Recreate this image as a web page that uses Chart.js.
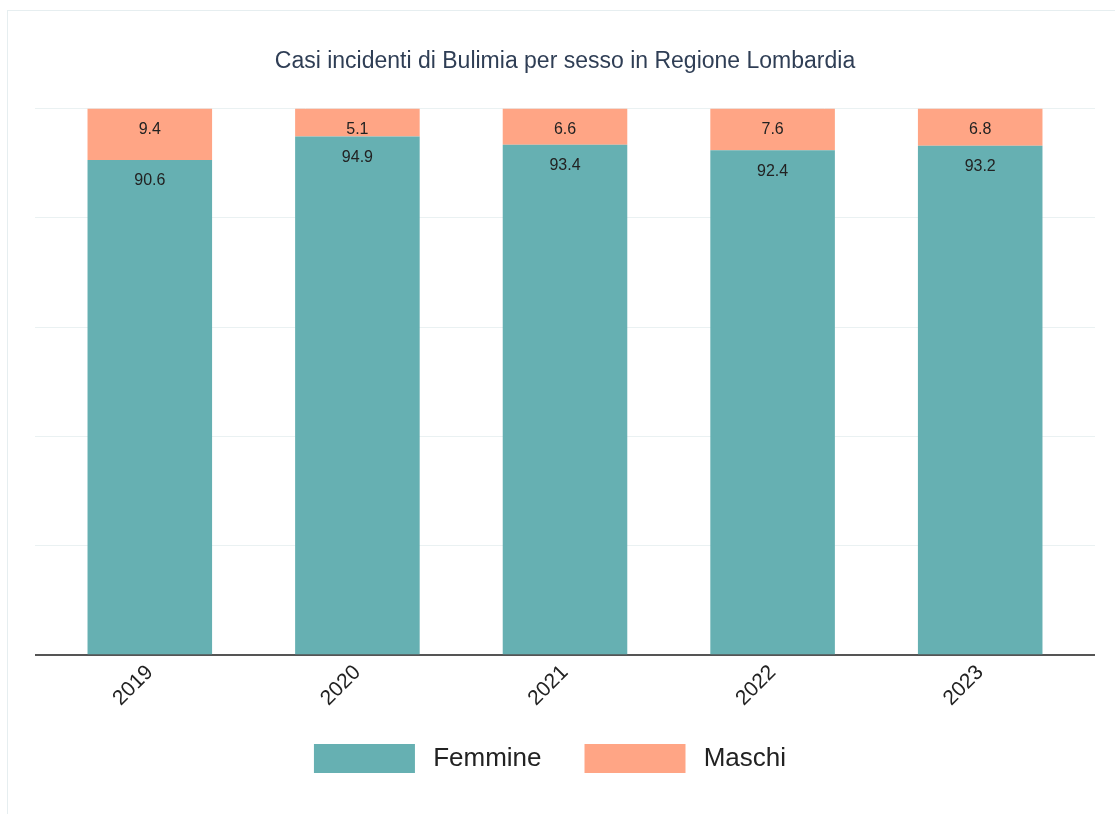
<!DOCTYPE html>
<html>
<head>
<meta charset="utf-8">
<script src="https://cdn.jsdelivr.net/npm/chart.js@4"></script>
<style>
  html, body { margin: 0; padding: 0; background: #fff; }
  #wrap { position: relative; width: 1115px; height: 814px; }
  #frame { position: absolute; left: 7px; top: 10px; width: 1120px; height: 820px; border: 1px solid #e6eef0; box-sizing: border-box; }
  #chart { position: absolute; left: 0; top: 0; }
</style>
</head>
<body>
<div id="wrap">
  <div id="frame"></div>
  <canvas id="chart" width="1115" height="814"></canvas>
</div>
<script>
// Data
var years = ['2019', '2020', '2021', '2022', '2023'];
var femmine = [90.6, 94.9, 93.4, 92.4, 93.2];
var maschi = [9.4, 5.1, 6.6, 7.6, 6.8];
var yTicks = [0, 20, 40, 60, 80, 100];

var gridColor = function (c) { return c.tick && c.tick.value === 0 ? '#555555' : '#eaf1f2'; };
var gridWidth = function (c) { return c.tick && c.tick.value === 0 ? 2 : 1; };

// Labels inside the bars
var barLabels = {
    id: 'barLabels',
    afterDatasetsDraw: function (chart) {
        var ctx = chart.ctx;
        ctx.save();
        ctx.font = '16px Arial, "Liberation Sans", sans-serif';
        ctx.fillStyle = '#222222';
        ctx.textAlign = 'center';
        ctx.textBaseline = 'middle';
        chart.data.datasets.forEach(function (ds, i) {
            var meta = chart.getDatasetMeta(i);
            meta.data.forEach(function (bar, j) {
                ctx.fillText(ds.data[j].toFixed(1), bar.x, bar.y + 21);
            });
        });
        ctx.restore();
    }
};

// legend sits a bit left of the plot centre and a little higher in the original
var legendShift = {
    id: 'legendShift',
    afterLayout: function (chart) {
        chart.legend.left -= 15;
        chart.legend.right -= 15;
        chart.legend.top -= 7;
        chart.legend.bottom -= 7;
    }
};

var ctx = document.getElementById('chart').getContext('2d');
var chart = new Chart(ctx, {
    type: 'bar',
    data: {
        labels: years,
        datasets: [{
            label: 'Femmine',
            data: femmine,
            backgroundColor: '#66b0b2',
            borderWidth: 0
        }, {
            label: 'Maschi',
            data: maschi,
            backgroundColor: '#ffa585',
            borderWidth: 0
        }]
    },
    options: {
        responsive: false,
        animation: false,
        layout: { padding: { left: 35, right: 20, top: 48, bottom: 24 } },
        datasets: { bar: { barPercentage: 0.6, categoryPercentage: 1 } },
        plugins: {
            title: {
                display: true,
                text: 'Casi incidenti di Bulimia per sesso in Regione Lombardia',
                color: '#2f3e55',
                font: { family: 'Arial, "Liberation Sans", sans-serif', size: 23, weight: 'normal' },
                padding: { top: 0, bottom: 33 }
            },
            legend: {
                position: 'bottom',
                labels: {
                    boxWidth: 101,
                    boxHeight: 29,
                    padding: 43,
                    color: '#222222',
                    font: { family: 'Arial, "Liberation Sans", sans-serif', size: 26 },
                    generateLabels: function (chart) {
                        // a little extra room between box and text
                        return Chart.defaults.plugins.legend.labels.generateLabels(chart).map(function (item) {
                            item.text = '\u2009' + item.text;
                            return item;
                        });
                    }
                }
            },
            tooltip: { enabled: false }
        },
        scales: {
            x: {
                stacked: true,
                grid: { display: false },
                border: { display: false },
                ticks: {
                    color: '#222222',
                    minRotation: 45,
                    maxRotation: 45,
                    padding: -3,
                    font: { family: 'Arial, "Liberation Sans", sans-serif', size: 21 }
                }
            },
            y: {
                stacked: true,
                min: 0,
                max: 100,
                afterBuildTicks: function (axis) {
                    axis.ticks = yTicks.map(function (v) { return { value: v }; });
                },
                border: { display: false },
                grid: { color: gridColor, lineWidth: gridWidth, tickLength: 11 },
                ticks: { display: false }
            },
            yRight: {
                position: 'right',
                min: 0,
                max: 100,
                afterBuildTicks: function (axis) {
                    axis.ticks = yTicks.map(function (v) { return { value: v }; });
                },
                border: { display: false },
                grid: { drawOnChartArea: false, color: gridColor, lineWidth: gridWidth, tickLength: 11 },
                ticks: { display: false }
            }
        }
    },
    plugins: [barLabels, legendShift]
});
</script>
</body>
</html>
